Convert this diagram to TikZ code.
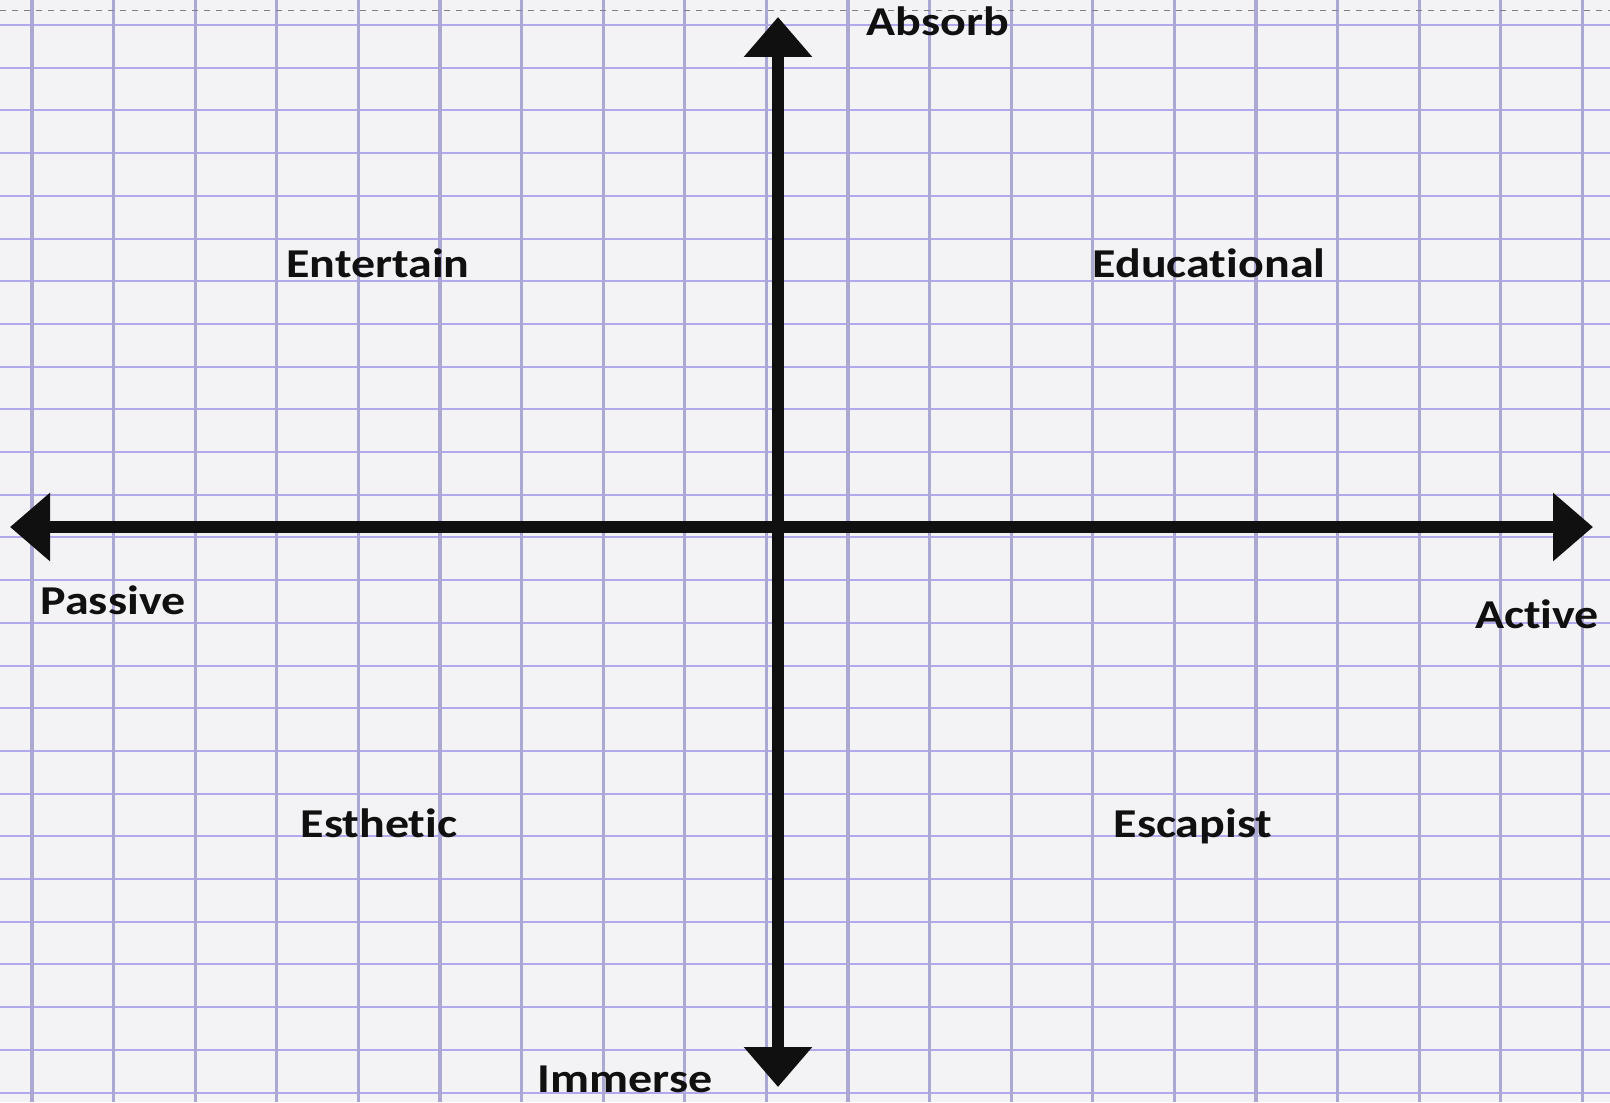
\documentclass[tikz,border=0pt]{standalone}
\usepackage{fontspec}
\setmainfont{Carlito}[Ligatures=NoCommon]
\usetikzlibrary{positioning, arrows.meta}
\usepackage{xcolor}
\definecolor{paper}{RGB}{243,243,245}
\definecolor{gridv}{RGB}{172,168,212}
\definecolor{gridh}{RGB}{176,170,236}
\definecolor{ink}{RGB}{16,16,16}

\begin{document}
\begin{tikzpicture}[x=0.5pt,y=-0.5pt,
    axisline/.style={line width=6pt, draw=ink,
        {Triangle[length=20pt,width=33pt]}-{Triangle[length=20pt,width=33pt]}},
    lbl/.style={font=\bfseries\fontsize{20.5}{24}\selectfont, text=ink,
        anchor=base, inner sep=0pt, xscale=1.17}]

    % Paper
    \useasboundingbox (0,0) rectangle (1610,1102);
    \fill[paper] (0,0) rectangle (1610,1102);

    % Grid of the squared paper
    \foreach \j in {0,...,25}
        \draw[gridh, line width=1pt] (0,{25+42.7*\j}) -- (1610,{25+42.7*\j});
    \foreach \i in {0,...,19}
        \draw[gridv, line width=1.6pt] ({32+81.6*\i},0) -- ({32+81.6*\i},1102);
    \draw[gray, dashed, line width=0.5pt] (0,11) -- (1610,11);

    % Axis end points
    \coordinate (W) at (10,527);
    \coordinate (E) at (1593,527);
    \coordinate (N) at (778,17);
    \coordinate (S) at (778,1087);

    % Axes
    \draw[axisline] (W) -- (E);
    \draw[axisline] (N) -- (S);

    % Axis labels
    \node[lbl] (absorb) at (938,36) {Absorb};
    \node[lbl] (immerse) at (625,1092) {Immerse};
    \node[lbl] (passive) at (113,614) {Passive};
    \node[lbl] (active) at (1537,628) {Active};

    % Quadrant labels
    \node[lbl] (entertain) at (378,277) {Entertain};
    \node[lbl] (educational) at (1209,277) {Educational};
    \node[lbl] (esthetic) at (379,837) {Esthetic};
    \node[lbl] (escapist) at (1193,837) {Escapist};

\end{tikzpicture}
\end{document}
